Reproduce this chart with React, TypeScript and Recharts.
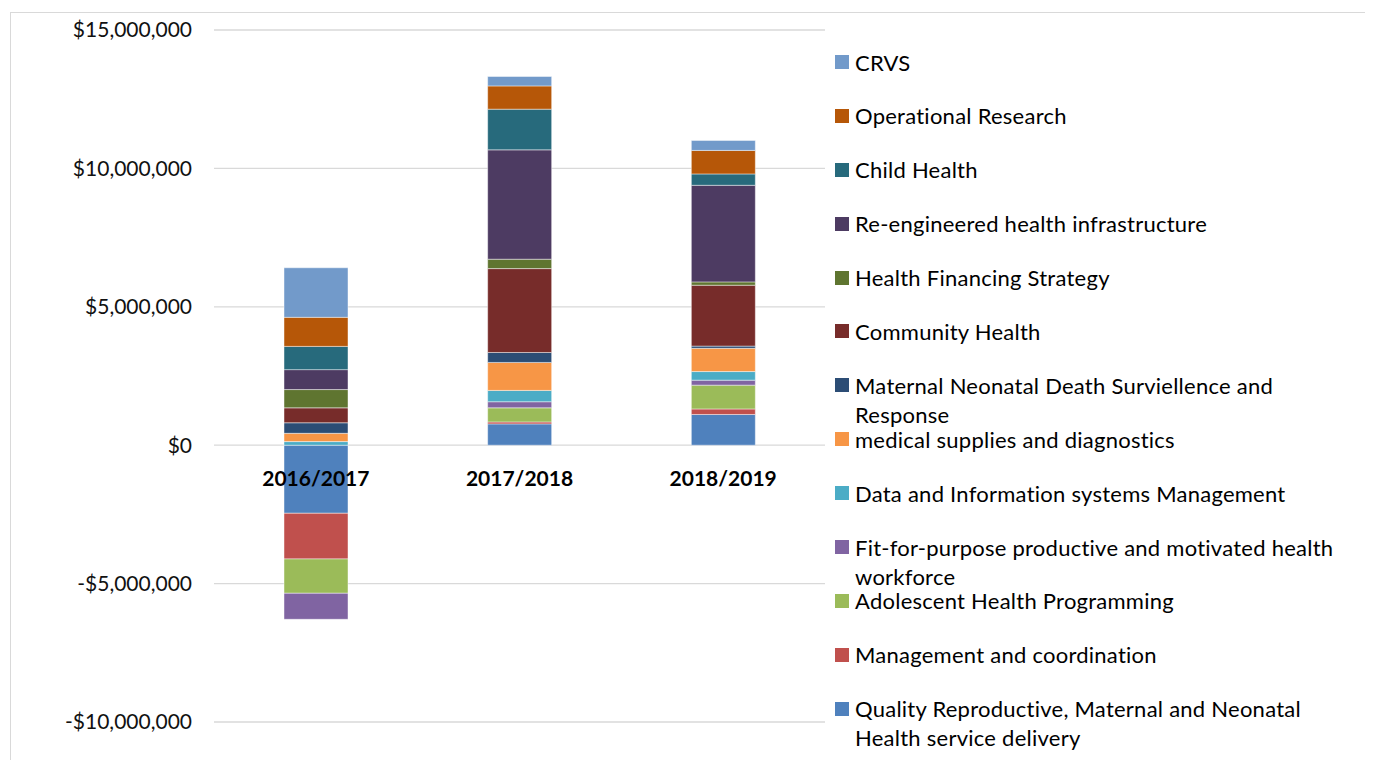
import { BarChart, Bar, XAxis, YAxis, CartesianGrid } from "recharts";

const categories = ["2016/2017", "2017/2018", "2018/2019"];

// stacked bottom -> top
const seriesNames = [
  "Quality Reproductive, Maternal and Neonatal Health service delivery",
  "Management and coordination",
  "Adolescent Health Programming",
  "Fit-for-purpose productive and motivated health workforce",
  "Data and Information systems Management",
  "medical supplies and diagnostics",
  "Maternal Neonatal Death Surviellence and Response",
  "Community Health",
  "Health Financing Strategy",
  "Re-engineered health infrastructure",
  "Child Health",
  "Operational Research",
  "CRVS",
];

const quality = [-2460000, 770000, 1110000];
const management = [-1650000, 70000, 200000];
const adolescent = [-1240000, 510000, 860000];
const fitForPurpose = [-940000, 220000, 180000];
const dataInfo = [130000, 410000, 310000];
const medical = [300000, 1010000, 840000];
const maternal = [380000, 360000, 80000];
const community = [540000, 3030000, 2200000];
const financing = [660000, 340000, 120000];
const reengineered = [720000, 3950000, 3490000];
const childHealth = [840000, 1470000, 410000];
const operational = [1050000, 840000, 850000];
const crvs = [1790000, 340000, 360000];

const seriesValues = [
  quality, management, adolescent, fitForPurpose, dataInfo, medical, maternal,
  community, financing, reengineered, childHealth, operational, crvs,
];

const yTicks = [-10000000, -5000000, 0, 5000000, 10000000, 15000000];

const COLORS = [
  "#4F81BD", "#C0504D", "#9BBB59", "#8064A2", "#4BACC6", "#F79646", "#2C4D75",
  "#772C2A", "#5F7530", "#4D3B62", "#276A7C", "#B65708", "#729ACA",
];

const data = categories.map((name, i) => {
  const row: Record<string, any> = { name };
  seriesValues.forEach((vals, k) => (row[`s${k}`] = vals[i]));
  return row;
});

const FONT = "Lato, 'Open Sans', sans-serif";
const PLOT_TOP = 22;
const PLOT_H = 692;
const ZERO_Y = PLOT_TOP + (PLOT_H * 15) / 25;

const money = (v: number) =>
  (v < 0 ? "-$" : "$") + Math.abs(v).toLocaleString("en-US");

const CategoryTick = ({ x, payload }: any) => (
  <text
    x={x}
    y={ZERO_Y + 33}
    dy="0.35em"
    textAnchor="middle"
    fontFamily={FONT}
    fontSize={21}
    fontWeight={700}
    fill="#000"
  >
    {payload.value}
  </text>
);

export default function App() {
  const legendItems = seriesNames.map((n, i) => ({ name: n, color: COLORS[i] })).reverse();
  return (
    <div style={{ position: "relative", width: 1365, height: 752, overflow: "hidden", fontFamily: FONT }}>
      <div
        style={{
          position: "absolute", left: 2, top: 4, width: 1500, height: 900,
          border: "1px solid #D9D9D9",
        }}
      />
      <BarChart
        width={830}
        height={752}
        data={data}
        stackOffset="sign"
        margin={{ top: PLOT_TOP, right: 13, bottom: 8, left: 0 }}
        barSize={64}
        style={{ position: "absolute", left: 0, top: 0 }}
      >
        <CartesianGrid vertical={false} stroke="#D9D9D9" strokeWidth={1.3} />
        <XAxis
          dataKey="name"
          axisLine={false}
          tickLine={false}
          height={30}
          tick={<CategoryTick />}
          interval={0}
        />
        <YAxis
          width={206}
          domain={[-10000000, 15000000]}
          ticks={yTicks}
          tickFormatter={money}
          axisLine={false}
          tickLine={false}
          tickSize={0}
          tickMargin={22}
          tick={{ fontFamily: FONT, fontSize: 21, fill: "#111" }}
        />
        {seriesNames.map((n, i) => (
          <Bar
            key={n}
            dataKey={`s${i}`}
            name={n}
            stackId="a"
            fill={COLORS[i]}
            stroke="rgba(255,255,255,0.45)"
            strokeWidth={1}
            isAnimationActive={false}
          />
        ))}
      </BarChart>
      <div style={{ position: "absolute", left: 827, top: 39.5, width: 520 }}>
        {legendItems.map((it) => (
          <div key={it.name} style={{ position: "relative", height: 53.9 }}>
            <div
              style={{
                position: "absolute", left: 0, top: 7.5, width: 14, height: 14,
                background: it.color,
              }}
            />
            <div
              style={{
                position: "absolute", left: 20, top: 0, width: 490,
                fontSize: 22, letterSpacing: 0.25, lineHeight: "29px", color: "#000",
                whiteSpace: "normal",
              }}
            >
              {it.name}
            </div>
          </div>
        ))}
      </div>
    </div>
  );
}
